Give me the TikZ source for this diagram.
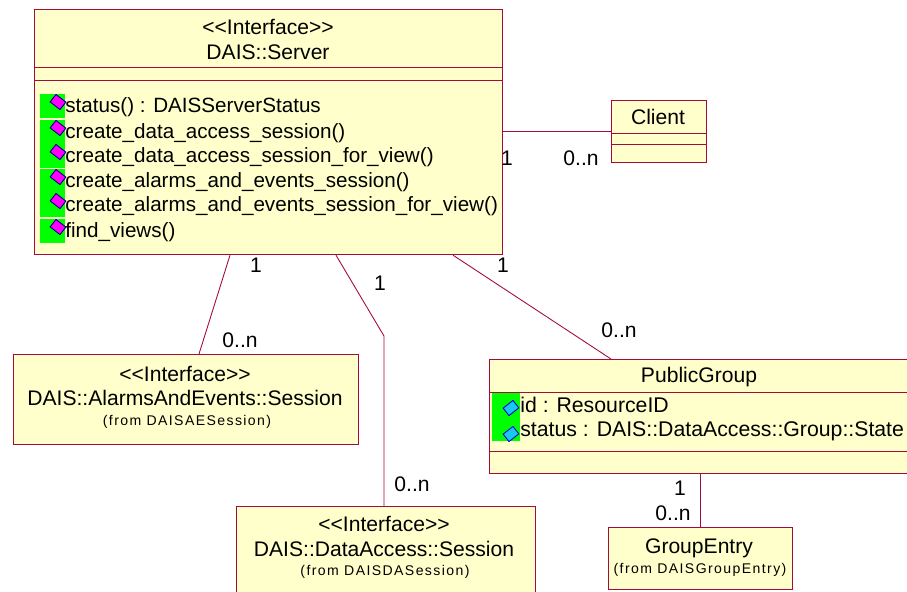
\documentclass[tikz,border=0pt]{standalone}
\usepackage{fontspec}
\setmainfont{Liberation Sans}
\usepackage{xcolor}
\definecolor{umlline}{HTML}{A50A3C}
\definecolor{umlfill}{HTML}{FFFFCC}
\definecolor{opgreen}{HTML}{00FF00}
\definecolor{opmagenta}{HTML}{FF00FF}
\definecolor{attrblue}{HTML}{19C8F0}
\tikzset{
  umlbox/.style={draw=umlline,fill=umlfill,line width=0.7pt,anchor=north west,inner sep=0pt},
  umltext/.style={inner sep=0pt,font=\fontsize{12}{13.9}\selectfont,align=center},
  membertext/.style={umltext,anchor=west},
  fromtext/.style={inner sep=0pt,font=\fontsize{8}{8}\selectfont\addfontfeature{LetterSpace=10}},
  multlabel/.style={inner sep=0pt,font=\fontsize{12}{12}\selectfont},
  assoc/.style={draw=umlline,line width=0.5pt},
  compart/.style={draw=umlline,line width=0.45pt},
  opicon/.style={draw=black!50!blue,fill=opmagenta,rectangle,rotate=-38,minimum width=0.25cm,minimum height=0.19cm,inner sep=0pt,line width=0.5pt},
  attricon/.style={draw=blue!80!black,fill=attrblue,rectangle,rotate=38,minimum width=0.25cm,minimum height=0.19cm,inner sep=0pt,line width=0.5pt}
}
\begin{document}
\begin{tikzpicture}[x=0.02cm,y=-0.02cm]
\useasboundingbox (0,0) rectangle (907,592);
% classes
\node[umlbox,minimum width=9.36cm,minimum height=4.9cm](server)at(34,9){};
\node[umlbox,minimum width=1.9cm,minimum height=1.24cm](client)at(611,100){};
\node[umlbox,minimum width=6.9cm,minimum height=1.8cm](aesession)at(13,354){};
\node[umlbox,minimum width=5.98cm,minimum height=2.0cm](dasession)at(236,506){};
\node[umlbox,minimum width=8.8cm,minimum height=2.28cm](pubgroup)at(489,359){};
\node[umlbox,minimum width=3.68cm,minimum height=1.24cm](entry)at(608,527){};
% compartments
\draw[compart] (34,67) -- (502,67) (34,80) -- (502,80);
\draw[compart] (611,133) -- (706,133) (611,144) -- (706,144);
\draw[compart] (489,392) -- (907,392) (489,451) -- (907,451);
% associations
\draw[assoc] (server.east |- 0,131) -- (client.west |- 0,131);
\draw[assoc] (230,0 |- server.south) -- (199,0 |- aesession.north);
\coordinate (bend) at (384,336);
\draw[assoc] (336,0 |- server.south) -- (bend) -- (bend |- dasession.north);
\draw[assoc] (453,0 |- server.south) -- (611,0 |- pubgroup.north);
\draw[assoc] (700,0 |- pubgroup.south) -- (700,0 |- entry.north);
% titles
\node[umltext](servertitle)at(268,39.5){<{}<Interface>{}>\\DAIS::Server};
\node[umltext](clienttitle)at(658,117){Client};
\node[umltext](aetitle)at(185,386){<{}<Interface>{}>\\DAIS::AlarmsAndEvents::Session};
\node[fromtext](aefrom)at(187,422){(from DAISAESession)};
\node[umltext](datitle)at(384,536.5){<{}<Interface>{}>\\DAIS::DataAccess::Session};
\node[fromtext](dafrom)at(385,572){(from DAISDASession)};
\node[umltext](pubtitle)at(699,377){PublicGroup};
\node[umltext](entrytitle)at(699,548){GroupEntry};
\node[fromtext](entryfrom)at(700,570){(from DAISGroupEntry)};
% operations
\foreach \y/\name/\txt in {107/opa/status() : DAISServerStatus,
    133/opb/create\_data\_access\_session(),
    157/opc/create\_data\_access\_session\_for\_view(),
    182/opd/create\_alarms\_and\_events\_session(),
    206/ope/create\_alarms\_and\_events\_session\_for\_view(),
    232/opf/find\_views()}{
  \fill[opgreen] (40,\y-13) rectangle (65,\y+11);
  \node[opicon](\name icon)at(58,\y-5){};
  \node[membertext,font=\fontsize{11.75}{14}\selectfont](\name)at(65,\y){\txt};
}
% attributes
\fill[opgreen] (492,393) rectangle (520,441);
\foreach \y/\name/\txt in {405/ata/id : ResourceID,
    431/atb/status : DAIS::DataAccess::Group::State}{
  \node[attricon](\name icon)at(511,\y+3){};
  \node[membertext,font=\fontsize{12.1}{14}\selectfont](\name)at(520,\y){\txt};
}
% multiplicities
\node[multlabel](ma)at(507,158){1};
\node[multlabel](mb)at(581,158){0..n};
\node[multlabel](mc)at(256,265){1};
\node[multlabel](md)at(240,340){0..n};
\node[multlabel](me)at(380,283){1};
\node[multlabel](mf)at(412,484){0..n};
\node[multlabel](mg)at(503,265){1};
\node[multlabel](mh)at(619,330){0..n};
\node[multlabel](mi)at(680,488){1};
\node[multlabel](mj)at(673,513){0..n};
\end{tikzpicture}
\end{document}
